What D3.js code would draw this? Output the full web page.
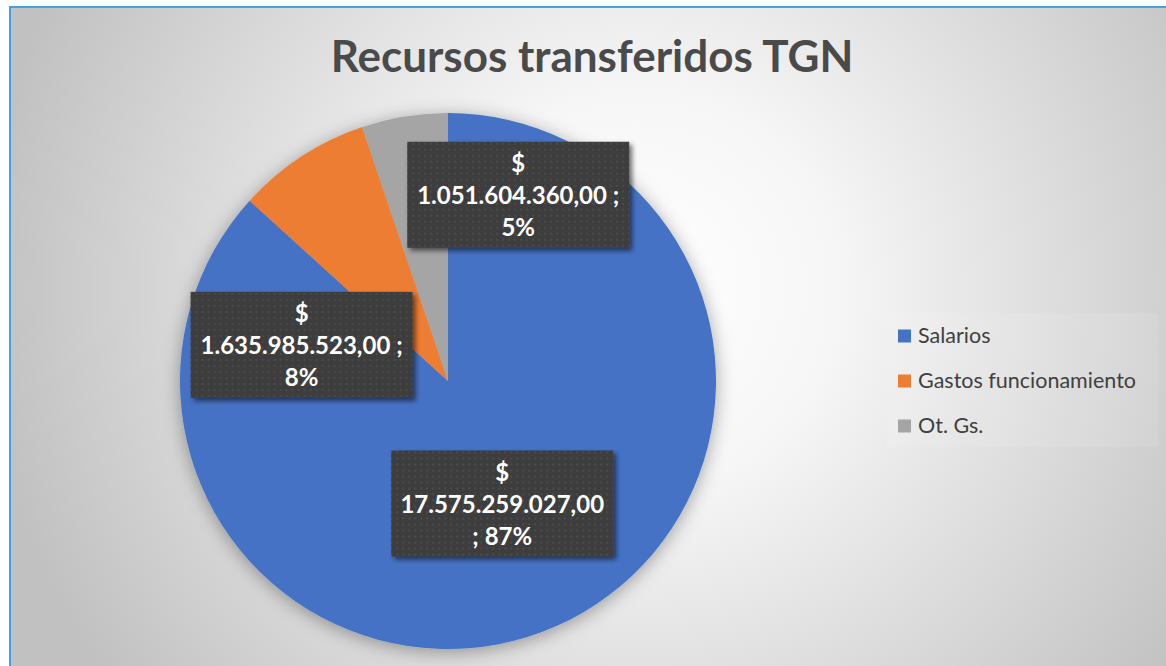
<!DOCTYPE html>
<html>
<head>
<meta charset="utf-8">
<script src="https://cdn.jsdelivr.net/npm/d3@7"></script>
<style>
  html, body { margin: 0; padding: 0; background: #ffffff; }
  svg { display: block; }
</style>
</head>
<body>
<svg id="chart" width="1166" height="666"></svg>
<script>
// ---- data ----
const title = "Recursos transferidos TGN";
const categories = ["Salarios", "Gastos funcionamiento", "Ot. Gs."];
const values = [17575259027.00, 1635985523.00, 1051604360.00];
const colors = ["#4472C4", "#ED7D31", "#A5A5A5"];

// ---- layout ----
const W = 1166, H = 666;
const cx = 448, cy = 381, R = 268;
const labelOffsets = [[0, 0], [-73, 76], [92, -54]]; // shift of each label box from its slice centroid
const boxW = 222, lineH = 32, boxPadY = 5;
const labelSize = 24;

const svg = d3.select("#chart");
const defs = svg.append("defs");

const bg = defs.append("radialGradient").attr("id", "bg")
  .attr("gradientUnits", "userSpaceOnUse")
  .attr("cx", 640).attr("cy", 290).attr("r", 660);
bg.append("stop").attr("offset", "0").attr("stop-color", "#ffffff");
bg.append("stop").attr("offset", "0.3").attr("stop-color", "#f6f6f6");
bg.append("stop").attr("offset", "1").attr("stop-color", "#c1c1c1");

const pieShadow = defs.append("filter").attr("id", "pieShadow")
  .attr("x", "-20%").attr("y", "-20%").attr("width", "140%").attr("height", "140%");
pieShadow.append("feDropShadow").attr("dx", 0).attr("dy", 3)
  .attr("stdDeviation", 9).attr("flood-color", "#000").attr("flood-opacity", 0.35);

const boxShadow = defs.append("filter").attr("id", "boxShadow")
  .attr("x", "-10%").attr("y", "-10%").attr("width", "125%").attr("height", "130%");
boxShadow.append("feDropShadow").attr("dx", 3).attr("dy", 3)
  .attr("stdDeviation", 2.5).attr("flood-color", "#000").attr("flood-opacity", 0.55);

const dots = defs.append("pattern").attr("id", "dots")
  .attr("patternUnits", "userSpaceOnUse").attr("width", 6).attr("height", 6);
dots.append("rect").attr("width", 6).attr("height", 6).attr("fill", "#3d3d3d");
dots.append("circle").attr("cx", 3).attr("cy", 3).attr("r", 1).attr("fill", "#4f4f4f");

// background + frame
svg.append("rect").attr("x", 10).attr("y", 7).attr("width", W).attr("height", H)
  .attr("fill", "url(#bg)");
svg.append("rect").attr("x", 10).attr("y", 7).attr("width", W + 20).attr("height", H + 20)
  .attr("fill", "none").attr("stroke", "#41A3DE").attr("stroke-width", 2);

// title
svg.append("text").attr("x", 592).attr("y", 72)
  .attr("text-anchor", "middle")
  .attr("font-family", "Lato, 'Open Sans', sans-serif")
  .attr("font-weight", 700).attr("font-size", 44)
  .attr("fill", "#4a4a4a")
  .text(title);

// pie
const pie = d3.pie().sort(null).value(d => d);
const arcs = pie(values);
const arc = d3.arc().innerRadius(0).outerRadius(R);

const g = svg.append("g").attr("transform", `translate(${cx},${cy})`);
g.append("g").attr("filter", "url(#pieShadow)")
  .selectAll("path").data(arcs).join("path")
  .attr("d", arc)
  .attr("fill", (d, i) => colors[i]);

// labels
const locale = d3.formatLocale({ decimal: ",", thousands: ".", grouping: [3], currency: ["$", ""] });
const fmtNum = locale.format(",.2f");
const total = d3.sum(values);
const fmtPct = d3.format(".0%");

const labelFont = "Lato, 'Open Sans', sans-serif";
const maxLineW = boxW - 16;

const measure = svg.append("text").attr("font-family", labelFont)
  .attr("font-weight", 700).attr("font-size", labelSize).attr("visibility", "hidden");
function textW(s) { measure.text(s); return measure.node().getComputedTextLength(); }

function wrap(tokens) {
  const lines = [];
  let cur = "";
  tokens.forEach(t => {
    const cand = cur ? cur + " " + t : t;
    if (cur && textW(cand) > maxLineW) { lines.push(cur); cur = t; }
    else cur = cand;
  });
  if (cur) lines.push(cur);
  return lines;
}

const labelG = svg.append("g");
arcs.forEach((a, i) => {
  const c = arc.centroid(a);
  const x = cx + c[0] + labelOffsets[i][0];
  const y = cy + c[1] + labelOffsets[i][1];
  const lines = ["$"].concat(wrap([fmtNum(values[i]), ";", fmtPct(values[i] / total)]));
  const bh = lines.length * lineH + boxPadY * 2;
  const lg = labelG.append("g").attr("transform", `translate(${x},${y})`);
  lg.append("rect").attr("x", -boxW / 2).attr("y", -bh / 2)
    .attr("width", boxW).attr("height", bh)
    .attr("fill", "url(#dots)").attr("filter", "url(#boxShadow)");
  lines.forEach((ln, j) => {
    lg.append("text")
      .attr("x", 0)
      .attr("y", (j - (lines.length - 1) / 2) * lineH + 9)
      .attr("text-anchor", "middle")
      .attr("font-family", labelFont).attr("font-weight", 700).attr("font-size", labelSize)
      .attr("fill", "#ffffff")
      .text(ln);
  });
});
measure.remove();

// legend
const legend = svg.append("g");
legend.append("rect").attr("x", 887).attr("y", 313).attr("width", 271).attr("height", 134)
  .attr("fill", "#ffffff").attr("opacity", 0.1);
const ly = d3.scalePoint().domain(categories).range([336, 426]);
categories.forEach((c, i) => {
  legend.append("rect").attr("x", 898).attr("y", ly(c) - 6.5).attr("width", 13).attr("height", 13)
    .attr("fill", colors[i]);
  legend.append("text").attr("x", 918).attr("y", ly(c) + 7)
    .attr("font-family", "Lato, 'Open Sans', sans-serif").attr("font-size", 21.5)
    .attr("fill", "#404040")
    .text(c);
});
</script>
</body>
</html>
